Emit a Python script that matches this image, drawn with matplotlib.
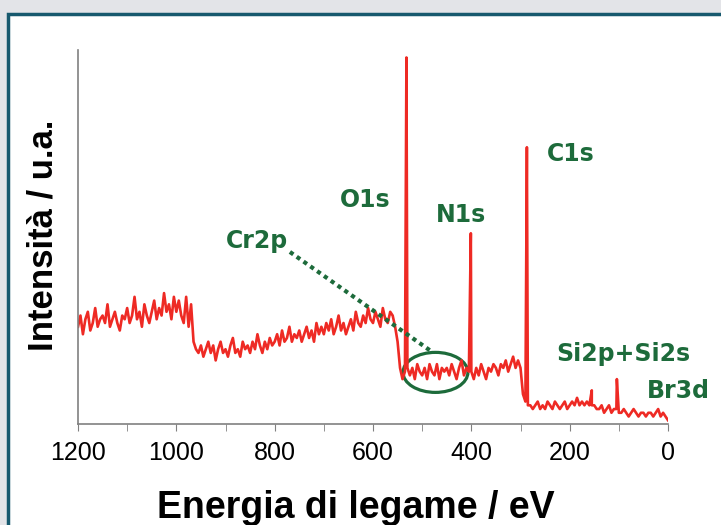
import numpy as np
import matplotlib.pyplot as plt
from matplotlib.patches import Ellipse, Rectangle

# XPS survey spectrum, intensity (a.u., 0-100) every 5 eV
energy = np.arange(1200, -1, -5)
intensity = [
    26, 29, 24, 28, 30, 25, 27, 31, 26, 28,   # 1200-1155
    29, 27, 32, 26, 28, 30, 27, 25, 29, 28,   # 1150-1105
    31, 27, 29, 34, 28, 30, 26, 32, 29, 27,   # 1100-1055
    30, 33, 28, 31, 29, 35, 30, 32, 28, 34,   # 1050-1005
    30, 33, 29, 27, 34, 26, 32, 22, 20, 19,   # 1000-955
    21, 18, 20, 22, 19, 21, 17, 20, 22, 19,   # 950-905
    20, 18, 21, 23, 19, 20, 18, 22, 20, 21,   # 900-855
    19, 22, 20, 24, 21, 19, 22, 20, 23, 21,   # 850-805
    22, 24, 21, 25, 22, 23, 26, 22, 24, 23,   # 800-755
    25, 22, 24, 26, 23, 25, 22, 27, 24, 26,   # 750-705
    24, 27, 25, 28, 24, 26, 29, 25, 27, 24,   # 700-655
    26, 28, 25, 30, 27, 26, 29, 27, 31, 28,   # 650-605
    27, 30, 28, 26, 31, 28, 27, 30, 29, 26,   # 600-555
    22, 15, 12, 14, 15, 13, 15, 12, 16, 14,   # 550-505
    13, 15, 12, 16, 14, 13, 16, 12, 15, 14,   # 500-455
    15, 13, 16, 14, 12, 15, 17, 13, 15, 14,   # 450-405
    14, 12, 15, 13, 16, 14, 12, 15, 14, 16,   # 400-355
    15, 13, 16, 15, 17, 14, 16, 18, 15, 17,   # 350-305
    15, 8, 6, 5, 5, 4, 5, 6, 4, 5,            # 300-255
    4, 6, 5, 4, 6, 5, 4, 5, 6, 4,             # 250-205
    5, 6, 5, 7, 5, 6, 5, 6, 5, 5,             # 200-155
    5, 4, 4, 5, 3, 4, 5, 3, 4, 4,             # 150-105
    3, 3, 4, 3, 2, 3, 4, 3, 2, 3,             # 100-55
    3, 2, 3, 3, 2, 3, 4, 2, 3, 2,             # 50-5
    1,                                        # 0
]

# narrow photoemission peaks
peak_energy = [532, 401, 287, 155, 104]
peak_height = [98, 51, 74, 9, 12]

# peak labels: text, energy, intensity of baseline
labels = ['O1s', 'N1s', 'C1s', 'Cr2p', 'Si2p+Si2s', 'Br3d']
label_energy = [616, 421, 197, 836, 91, -22]
label_height = [58, 54, 70.3, 47.1, 16.8, 7.0]

green = '#1d6b3b'
red = '#ee2a24'

x = np.concatenate([energy, peak_energy])
y = np.concatenate([intensity, peak_height])
order = np.argsort(-x)
x, y = x[order], y[order]

fig = plt.figure(figsize=(7.21, 5.25), dpi=100, facecolor='#e3e4e8')
panel = Rectangle((8/721, -0.1), 1.0, 1 - 14/525 + 0.1, transform=fig.transFigure,
                  facecolor='white', edgecolor='#17596e', lw=2.5, zorder=-10)
fig.patches.append(panel)

ax = fig.add_axes([78/721, 101/525, 590/721, 374/525])
ax.patch.set_alpha(0)
ax.plot(x, y, color=red, lw=1.9)

ax.set_xlim(1200, 0)
ax.set_ylim(0, 100)
ax.set_xticks(np.arange(0, 1201, 200))
ax.set_xticks(np.arange(100, 1200, 200), minor=True)
ax.set_yticks([])
ax.tick_params(which='both', length=5, color='#808080', direction='out')
ax.tick_params(axis='x', pad=7, labelsize=18)
for lab in ax.get_xticklabels():
    lab.set_family('Liberation Sans')
for s in ['top', 'right']:
    ax.spines[s].set_visible(False)
for s in ['left', 'bottom']:
    ax.spines[s].set_color('#808080')
    ax.spines[s].set_linewidth(1.2)

for t, e, h in zip(labels, label_energy, label_height):
    ax.text(e, h, t, color=green, fontsize=17, fontweight='bold',
            ha='center', va='baseline', family='DejaVu Sans')

# Cr2p pointer and highlight
ax.plot([769, 480], [46, 19.3], color=green, lw=3, linestyle=(0, (1, 1)),
        dash_capstyle='butt')
ax.add_patch(Ellipse((473, 13.8), 132, 10.7, fill=False, ec=green, lw=2.3))

fig.text(43/721, 1 - 235/525, 'Intensità / u.a.', rotation=90, ha='center',
         va='center', fontsize=25, fontweight='bold', family='Liberation Sans')
fig.text(356/721, 1 - 518/525, 'Energia di legame / eV', ha='center',
         va='baseline', fontsize=27, fontweight='bold', family='Liberation Sans')

fig.savefig('out.png', dpi=100, facecolor=fig.get_facecolor())
